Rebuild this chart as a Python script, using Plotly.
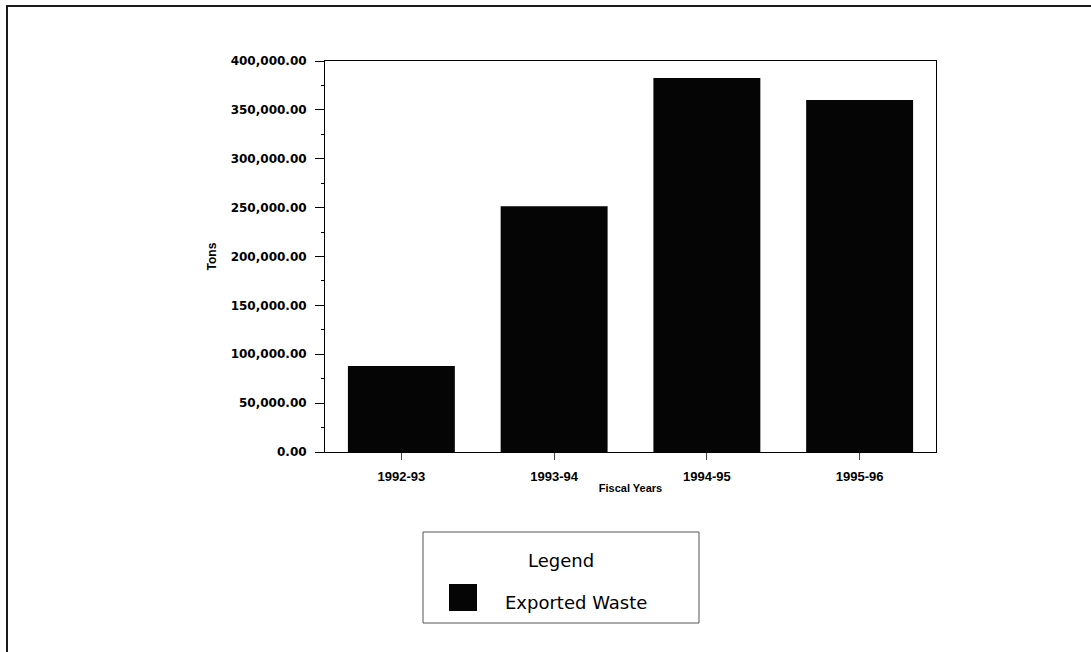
import plotly.graph_objects as go

# Exported waste by fiscal year (tons)
fiscal_years = ["1992-93", "1993-94", "1994-95", "1995-96"]
exported_tons = [88000, 251500, 382500, 360000]
series_name = "Exported Waste"
y_tick_values = [0, 50000, 100000, 150000, 200000, 250000, 300000, 350000, 400000]

W, H = 1091, 652
L, R, T, B = 325, 155, 61, 200
PW, PH = W - L - R, H - T - B


def px_x(x):
    return (x - L) / PW


def px_y(y):
    return (H - B - y) / PH


fig = go.Figure()
fig.add_trace(go.Bar(
    x=fiscal_years,
    y=exported_tons,
    name=series_name,
    marker=dict(color="#050505", line=dict(width=0)),
    width=0.70,
    showlegend=False,
))

fig.update_layout(
    width=W, height=H,
    margin=dict(l=L, r=R, t=T, b=B, autoexpand=False),
    paper_bgcolor="white",
    plot_bgcolor="white",
    bargap=0.3,
    xaxis=dict(
        range=[-0.5, 3.5],
        showline=True, linecolor="black", linewidth=1, mirror=True,
        ticks="outside", ticklen=7, tickcolor="#444", tickwidth=1,
        showgrid=False, zeroline=False,
        tickfont=dict(family="Liberation Sans, Arial, sans-serif", size=13,
                      color="black", weight="bold"),
        ticklabelstandoff=5,
        title=dict(text="Fiscal Years", standoff=1,
                   font=dict(family="Liberation Sans, Arial, sans-serif",
                             size=11, color="black", weight="bold")),
    ),
    yaxis=dict(
        range=[0, 400000],
        tickvals=y_tick_values,
        tickformat=",.2f",
        showline=True, linecolor="black", linewidth=1, mirror=True,
        ticks="outside", ticklen=9, tickcolor="black", tickwidth=1,
        minor=dict(dtick=25000, ticks="outside", ticklen=3, tickcolor="black"),
        showgrid=False, zeroline=False,
        tickfont=dict(family="DejaVu Sans, sans-serif", size=12,
                      color="black", weight="bold"),
        ticklabelstandoff=6,
        title=dict(text="Tons", standoff=11,
                   font=dict(family="Liberation Sans, Arial, sans-serif",
                             size=12, color="black", weight="bold")),
    ),
)

# Page frame (top and left edges visible)
fig.add_shape(type="rect", xref="paper", yref="paper",
              x0=px_x(7), x1=px_x(1110), y0=px_y(670), y1=px_y(6),
              line=dict(color="#1a1a1a", width=2), layer="below")

# Legend panel
fig.add_shape(type="rect", xref="paper", yref="paper",
              x0=px_x(423), x1=px_x(699), y0=px_y(623), y1=px_y(532),
              line=dict(color="#555555", width=1))
fig.add_shape(type="rect", xref="paper", yref="paper",
              x0=px_x(449), x1=px_x(477), y0=px_y(611), y1=px_y(584),
              fillcolor="#050505", line=dict(width=0))
fig.add_annotation(xref="paper", yref="paper", x=px_x(561), y=px_y(560),
                   text="Legend", showarrow=False, xanchor="center", yanchor="middle",
                   font=dict(family="DejaVu Sans, sans-serif", size=18, color="black"))
fig.add_annotation(xref="paper", yref="paper", x=px_x(503), y=px_y(602),
                   text=series_name, showarrow=False, xanchor="left", yanchor="middle",
                   font=dict(family="DejaVu Sans, sans-serif", size=18, color="black"))

fig.write_html("out.html")
